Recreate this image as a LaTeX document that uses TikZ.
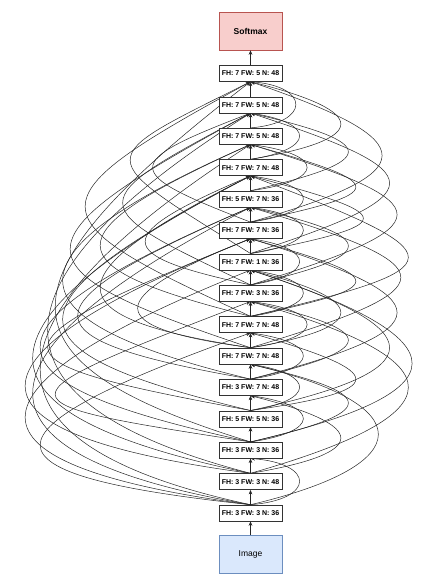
\documentclass[tikz,border=0pt]{standalone}
\usepackage{fontspec}
\setmainfont{Liberation Sans}
\usetikzlibrary{arrows.meta}
\pgfdeclarelayer{bg}
\pgfsetlayers{bg,main}
\definecolor{smfill}{HTML}{F8CECC}
\definecolor{smdraw}{HTML}{B85450}
\definecolor{imfill}{HTML}{DAE8FC}
\definecolor{imdraw}{HTML}{6C8EBF}
\begin{document}
\begin{tikzpicture}[x=1pt,y=-1pt,
  conv/.style={draw=black!80, fill=white, line width=0.6pt, minimum width=63pt, minimum height=16pt, inner sep=0pt, font=\fontsize{7}{8}\selectfont\bfseries},
  bigbox/.style={line width=0.6pt, minimum width=63pt, minimum height=38pt, inner sep=0pt, font=\fontsize{8.5}{10}\selectfont},
  seq/.style={-{Stealth[length=4.5pt,width=3.6pt]}, line width=0.5pt, black!85},
  skipedge/.style={seq}]
\useasboundingbox (0,0) rectangle (429,581);
\node[bigbox, draw=smdraw, fill=smfill, font=\fontsize{8.5}{10}\selectfont\bfseries] (sm) at (250.5,31) {Softmax};
\node[bigbox, draw=imdraw, fill=imfill] (img) at (250.5,554) {Image};
\foreach \lab [count=\k] in {FH: 3 FW: 3 N: 36, FH: 3 FW: 3 N: 48, FH: 3 FW: 3 N: 36, FH: 5 FW: 5 N: 36, FH: 3 FW: 7 N: 48, FH: 7 FW: 7 N: 48, FH: 7 FW: 7 N: 48, FH: 7 FW: 3 N: 36, FH: 7 FW: 1 N: 36, FH: 7 FW: 7 N: 36, FH: 5 FW: 7 N: 36, FH: 7 FW: 7 N: 48, FH: 7 FW: 5 N: 48, FH: 7 FW: 5 N: 48, FH: 7 FW: 5 N: 48}
  \node[conv] (a\k) at (250.5,{513-31.4*(\k-1)}) {\lab};
\draw[seq] (img.north) -- (a1.south);
\foreach \k [evaluate=\k as \n using int(\k+1)] in {1,...,14}
  \draw[seq] (a\k.north) -- (a\n.south);
\draw[seq] (a15.north) -- (sm.south);
\begin{pgfonlayer}{bg}
\foreach \s/\e/\dx/\ha/\hb in {
  1/3/65/5/5, 2/5/120/20/30, 3/5/70/10/10, 3/6/130/30/30, 4/6/65/10/10,
  4/7/140/20/40, 4/9/185/40/60, 5/7/70/10/10, 5/8/130/30/30, 5/10/195/50/60,
  6/8/75/10/10, 6/9/120/20/30, 6/11/200/60/60, 7/9/70/10/10, 7/10/140/30/40,
  7/12/210/50/80, 8/10/65/10/10, 8/11/130/30/30, 8/13/195/60/60, 9/11/70/10/10,
  9/12/150/30/40, 9/14/185/60/60, 10/12/70/10/10, 10/13/140/30/40, 10/15/175/50/60,
  11/13/75/10/10, 11/14/130/30/30, 12/14/65/10/10, 12/15/120/20/30, 13/15/60/5/5,
  2/8/210/60/60, 3/9/215/50/70, 1/6/170/40/40,
  1/7/-280/30/100, 1/9/-300/40/120, 1/11/-290/50/150, 1/13/-280/60/180,
  2/10/-300/40/120, 2/12/-290/60/150, 2/14/-270/70/170, 3/8/-260/40/100,
  3/11/-280/60/120, 3/15/-260/80/200, 4/10/-270/50/110, 4/12/-250/60/130,
  5/13/-250/60/110, 5/11/-230/40/100, 6/14/-240/80/130, 6/12/-200/30/100,
  7/13/-200/50/90, 7/15/-220/100/120, 8/14/-170/80/90, 9/15/-160/100/80,
  6/10/-150/20/60, 8/12/-140/30/60, 10/14/-130/50/50}
  \draw[skipedge] (a\s.north) .. controls +(\dx,-\ha) and +(\dx,\hb) .. (a\e.south);
\end{pgfonlayer}
\end{tikzpicture}
\end{document}
